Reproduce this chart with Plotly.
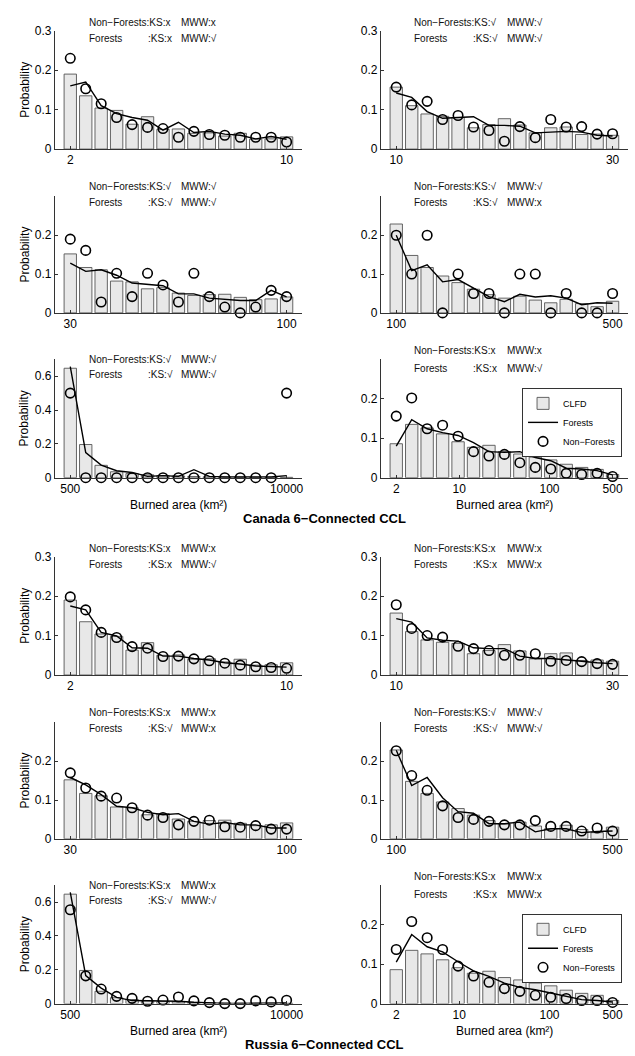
import math
import plotly.graph_objects as go

W, H = 635, 1056

# ---------------- data ----------------
# bin ranges (burned area, km^2) -> tick labels
tick_2_10 = [2, 10]
tick_10_30 = [10, 30]
tick_30_100 = [30, 100]
tick_100_500 = [100, 500]
tick_500_10000 = [500, 10000]
tick_2_500 = [2, 10, 100, 500]

# CLFD reference distribution (same in both regions)
clfd_2_10 = [0.190, 0.135, 0.104, 0.098, 0.063, 0.082, 0.050, 0.051, 0.040, 0.041, 0.033, 0.040, 0.025, 0.026, 0.031]
clfd_10_30 = [0.157, 0.110, 0.089, 0.083, 0.080, 0.054, 0.062, 0.077, 0.061, 0.041, 0.054, 0.056, 0.037, 0.038, 0.035]
clfd_30_100 = [0.152, 0.117, 0.111, 0.082, 0.080, 0.062, 0.065, 0.051, 0.045, 0.047, 0.048, 0.040, 0.034, 0.036, 0.041]
clfd_100_500 = [0.229, 0.148, 0.117, 0.095, 0.078, 0.061, 0.047, 0.038, 0.043, 0.033, 0.026, 0.035, 0.024, 0.016, 0.030]
clfd_500_10000 = [0.647, 0.196, 0.073, 0.035, 0.024, 0.017, 0.012, 0.010, 0.007, 0.005, 0.004, 0.003, 0.002, 0.002, 0.002]
clfd_2_500 = [0.086, 0.135, 0.126, 0.111, 0.091, 0.077, 0.082, 0.066, 0.060, 0.052, 0.045, 0.034, 0.026, 0.021, 0.008]

# Canada
ca_forest_2_10 = [0.160, 0.170, 0.110, 0.090, 0.080, 0.073, 0.048, 0.068, 0.042, 0.045, 0.038, 0.035, 0.026, 0.032, 0.025]
ca_nonforest_2_10 = [0.230, 0.153, 0.115, 0.080, 0.062, 0.055, 0.052, 0.030, 0.045, 0.037, 0.035, 0.030, 0.030, 0.030, 0.018]
ca_forest_10_30 = [0.142, 0.131, 0.095, 0.078, 0.080, 0.082, 0.060, 0.060, 0.058, 0.041, 0.043, 0.045, 0.043, 0.035, 0.033]
ca_nonforest_10_30 = [0.157, 0.112, 0.121, 0.075, 0.085, 0.056, 0.047, 0.020, 0.057, 0.029, 0.075, 0.056, 0.057, 0.038, 0.039]
ca_forest_30_100 = [0.128, 0.107, 0.111, 0.097, 0.077, 0.073, 0.070, 0.049, 0.049, 0.038, 0.035, 0.032, 0.032, 0.058, 0.041]
ca_nonforest_30_100 = [0.190, 0.161, 0.028, 0.102, 0.042, 0.102, 0.072, 0.028, 0.102, 0.042, 0.015, 0.000, 0.015, 0.058, 0.042]
ca_forest_100_500 = [0.200, 0.109, 0.124, 0.080, 0.086, 0.063, 0.042, 0.029, 0.048, 0.041, 0.044, 0.038, 0.021, 0.026, 0.025]
ca_nonforest_100_500 = [0.20, 0.10, 0.20, 0.00, 0.10, 0.05, 0.05, 0.00, 0.10, 0.10, 0.00, 0.05, 0.00, 0.00, 0.05]
ca_forest_500_10000 = [0.656, 0.148, 0.074, 0.041, 0.031, 0.008, 0.012, 0.008, 0.047, 0.008, 0.004, 0.004, 0.004, 0.004, 0.012]
ca_nonforest_500_10000 = [0.50, 0.00, 0.00, 0.00, 0.00, 0.00, 0.00, 0.00, 0.00, 0.00, 0.00, 0.00, 0.00, 0.00, 0.50]
ca_forest_2_500 = [0.080, 0.147, 0.124, 0.114, 0.107, 0.089, 0.066, 0.064, 0.066, 0.051, 0.043, 0.024, 0.022, 0.018, 0.007]
ca_nonforest_2_500 = [0.156, 0.202, 0.124, 0.133, 0.105, 0.066, 0.055, 0.059, 0.038, 0.026, 0.022, 0.011, 0.008, 0.011, 0.003]

# Russia
ru_forest_2_10 = [0.175, 0.165, 0.108, 0.099, 0.069, 0.068, 0.048, 0.048, 0.042, 0.038, 0.031, 0.028, 0.023, 0.021, 0.020]
ru_nonforest_2_10 = [0.198, 0.165, 0.108, 0.095, 0.072, 0.068, 0.047, 0.048, 0.041, 0.036, 0.030, 0.025, 0.021, 0.019, 0.017]
ru_forest_10_30 = [0.143, 0.134, 0.094, 0.088, 0.086, 0.069, 0.067, 0.067, 0.048, 0.042, 0.042, 0.039, 0.035, 0.031, 0.029]
ru_nonforest_10_30 = [0.178, 0.118, 0.100, 0.096, 0.073, 0.067, 0.062, 0.050, 0.050, 0.054, 0.035, 0.037, 0.034, 0.029, 0.027]
ru_forest_30_100 = [0.158, 0.139, 0.114, 0.084, 0.080, 0.068, 0.062, 0.065, 0.045, 0.038, 0.042, 0.036, 0.036, 0.028, 0.028]
ru_nonforest_30_100 = [0.170, 0.131, 0.110, 0.105, 0.080, 0.061, 0.055, 0.036, 0.045, 0.048, 0.031, 0.030, 0.034, 0.025, 0.025]
ru_forest_100_500 = [0.228, 0.137, 0.158, 0.106, 0.070, 0.066, 0.039, 0.039, 0.043, 0.018, 0.026, 0.026, 0.016, 0.019, 0.020]
ru_nonforest_100_500 = [0.227, 0.163, 0.125, 0.085, 0.055, 0.050, 0.045, 0.036, 0.036, 0.047, 0.032, 0.032, 0.020, 0.028, 0.020]
ru_forest_500_10000 = [0.658, 0.166, 0.092, 0.037, 0.018, 0.018, 0.014, 0.014, 0.008, 0.004, 0.001, 0.001, 0.002, 0.002, 0.004]
ru_nonforest_500_10000 = [0.555, 0.164, 0.086, 0.043, 0.031, 0.014, 0.021, 0.039, 0.016, 0.006, 0.000, 0.000, 0.016, 0.010, 0.020]
ru_forest_2_500 = [0.105, 0.175, 0.144, 0.131, 0.106, 0.083, 0.069, 0.052, 0.041, 0.035, 0.027, 0.018, 0.010, 0.008, 0.004]
ru_nonforest_2_500 = [0.137, 0.208, 0.167, 0.137, 0.095, 0.070, 0.054, 0.038, 0.031, 0.021, 0.016, 0.013, 0.008, 0.008, 0.003]

# test results: (Non-Forests KS, Non-Forests MWW, Forests KS, Forests MWW)
ca_tests = [("x", "x", "x", "√"), ("√", "√", "√", "√"), ("√", "√", "√", "√"),
            ("√", "√", "√", "x"), ("√", "√", "√", "√"), ("x", "x", "x", "√")]
ru_tests = [("x", "x", "x", "√"), ("x", "x", "x", "x"), ("x", "x", "√", "x"),
            ("√", "√", "√", "√"), ("x", "x", "√", "√"), ("x", "x", "x", "x")]

region_titles = ["Canada 6−Connected CCL", "Russia 6−Connected CCL"]
ylabel = "Probability"
xlabel = "Burned area (km²)"
legend_names = ["CLFD", "Forests", "Non−Forests"]

ticks_list = [tick_2_10, tick_10_30, tick_30_100, tick_100_500, tick_500_10000, tick_2_500]
clfd_list = [clfd_2_10, clfd_10_30, clfd_30_100, clfd_100_500, clfd_500_10000, clfd_2_500]
regions = [
    dict(forest=[ca_forest_2_10, ca_forest_10_30, ca_forest_30_100, ca_forest_100_500, ca_forest_500_10000, ca_forest_2_500],
         nonforest=[ca_nonforest_2_10, ca_nonforest_10_30, ca_nonforest_30_100, ca_nonforest_100_500, ca_nonforest_500_10000, ca_nonforest_2_500],
         tests=ca_tests, title=region_titles[0]),
    dict(forest=[ru_forest_2_10, ru_forest_10_30, ru_forest_30_100, ru_forest_100_500, ru_forest_500_10000, ru_forest_2_500],
         nonforest=[ru_nonforest_2_10, ru_nonforest_10_30, ru_nonforest_30_100, ru_nonforest_100_500, ru_nonforest_500_10000, ru_nonforest_2_500],
         tests=ru_tests, title=region_titles[1]),
]

# ---------------- layout geometry (pixels) ----------------
FONT = "Liberation Sans, Arial, Helvetica, sans-serif"
block_off = [0, 533]
row_top = [24, 192, 357]
row_bot = [144, 310, 477]
col_left = [55, 382]
col_right = [303, 630]
text_rows = [(16, 32), (182, 198), (357, 372)]
text_rows_r3r = (348, 366)
text_dx = [(32, 91, 125), (31, 90, 125)]
yranges = [(0.3, [0, 0.1, 0.2, 0.3]), (0.3, [0, 0.1, 0.2])]


def fx(p):
    return p / W


def fy(p):
    return 1 - p / H


fig = go.Figure()
layout = dict(width=W, height=H, margin=dict(l=0, r=0, t=0, b=0),
              paper_bgcolor="white", plot_bgcolor="white",
              font=dict(family=FONT, size=12, color="black"),
              showlegend=True, annotations=[])

AX_COL = "#333333"
k = 0
for ri, reg in enumerate(regions):
    off = block_off[ri]
    for pi in range(6):
        k += 1
        row, col = pi // 2, pi % 2
        xa = "x" if k == 1 else f"x{k}"
        ya = "y" if k == 1 else f"y{k}"
        clfd = clfd_list[pi]
        n = len(clfd)
        xs = list(range(1, n + 1))
        ticks = ticks_list[pi]
        lo, hi = ticks[0], ticks[-1]
        tickpos = [1 + (n - 1) * (math.log10(v) - math.log10(lo)) / (math.log10(hi) - math.log10(lo)) for v in ticks]

        if pi == 4:
            ymax, yt = 0.7, [0, 0.2, 0.4, 0.6]
        elif pi < 2:
            ymax, yt = yranges[0]
        else:
            ymax, yt = yranges[1]

        top = row_top[row] + off
        bot = row_bot[row] + off
        is_leg = (pi == 5)
        legname = "legend" if ri == 0 else "legend2"

        fig.add_trace(go.Bar(x=xs, y=clfd, width=0.8, xaxis=xa, yaxis=ya,
                             marker=dict(color="#e8e8e8", line=dict(color="#555555", width=0.9)),
                             name=legend_names[0], showlegend=is_leg, legend=legname))
        fig.add_trace(go.Scatter(x=xs, y=reg["forest"][pi], mode="lines", xaxis=xa, yaxis=ya,
                                 line=dict(color="black", width=1.4),
                                 name=legend_names[1], showlegend=is_leg, legend=legname,
                                 cliponaxis=False))
        fig.add_trace(go.Scatter(x=xs, y=reg["nonforest"][pi], mode="markers", xaxis=xa, yaxis=ya,
                                 marker=dict(symbol="circle-open", size=9.5, color="black",
                                             line=dict(width=1.6, color="black")),
                                 name=legend_names[2], showlegend=is_leg, legend=legname,
                                 cliponaxis=False))

        xkey = "xaxis" if k == 1 else f"xaxis{k}"
        ykey = "yaxis" if k == 1 else f"yaxis{k}"
        layout[xkey] = dict(domain=[fx(col_left[col]), fx(col_right[col])], range=[0, n + 1],
                            anchor=ya, showgrid=False, zeroline=False, showline=True,
                            linecolor=AX_COL, linewidth=1, ticks="inside", ticklen=3,
                            tickcolor=AX_COL, tickvals=tickpos, ticktext=[str(v) for v in ticks],
                            tickfont=dict(size=12, color="black"), fixedrange=True)
        layout[ykey] = dict(domain=[fy(bot), fy(top)], range=[0, ymax], anchor=xa,
                            showgrid=False, zeroline=False, showline=True,
                            linecolor=AX_COL, linewidth=1, ticks="inside", ticklen=3,
                            tickcolor=AX_COL, tickvals=yt, ticktext=[("%g" % v) for v in yt],
                            tickfont=dict(size=12, color="black"), fixedrange=True)

        # test result texts
        t = reg["tests"][pi]
        ty1, ty2 = text_rows_r3r if pi == 5 else text_rows[row]
        ty1 += off
        ty2 += off
        dx = text_dx[col]
        x0 = col_left[col]
        items = [(ty1, dx[0], "Non−Forests:KS:" + t[0]), (ty1, dx[2], "MWW:" + t[1]),
                 (ty2, dx[0], "Forests"), (ty2, dx[1], ":KS:" + t[2]), (ty2, dx[2], "MWW:" + t[3])]
        for (yy, ddx, s) in items:
            layout["annotations"].append(dict(
                xref="paper", yref="paper", x=fx(x0 + ddx), y=fy(yy), text=s,
                showarrow=False, xanchor="left", yanchor="middle",
                font=dict(size=10, color="#111111", family=FONT)))

        if col == 0:
            layout["annotations"].append(dict(
                xref="paper", yref="paper", x=fx(25), y=fy((top + bot) / 2), text=ylabel,
                textangle=-90, showarrow=False, xanchor="center", yanchor="middle",
                font=dict(size=12, color="black", family=FONT)))
        if row == 2:
            layout["annotations"].append(dict(
                xref="paper", yref="paper", x=fx((col_left[col] + col_right[col]) / 2), y=fy(505 + off),
                text=xlabel, showarrow=False, xanchor="center", yanchor="middle",
                font=dict(size=12, color="black", family=FONT)))

    layout["annotations"].append(dict(
        xref="paper", yref="paper", x=fx(326), y=fy(518 + off), text="<b>" + reg["title"] + "</b>",
        showarrow=False, xanchor="center", yanchor="middle",
        font=dict(size=13, color="black", family=FONT)))

leg_common = dict(xanchor="right", yanchor="top", bgcolor="white", bordercolor="#333333",
                  borderwidth=1, font=dict(size=9, family=FONT, color="black"),
                  tracegroupgap=0, itemwidth=30, traceorder="normal")
layout["legend"] = dict(x=fx(624), y=fy(386), **leg_common)
layout["legend2"] = dict(x=fx(624), y=fy(386 + 533), **leg_common)

fig.update_layout(**layout)
fig.write_html("out.html", config={"displayModeBar": False, "staticPlot": True},
               post_script="document.body.style.margin='0px';document.body.style.overflow='hidden';")
